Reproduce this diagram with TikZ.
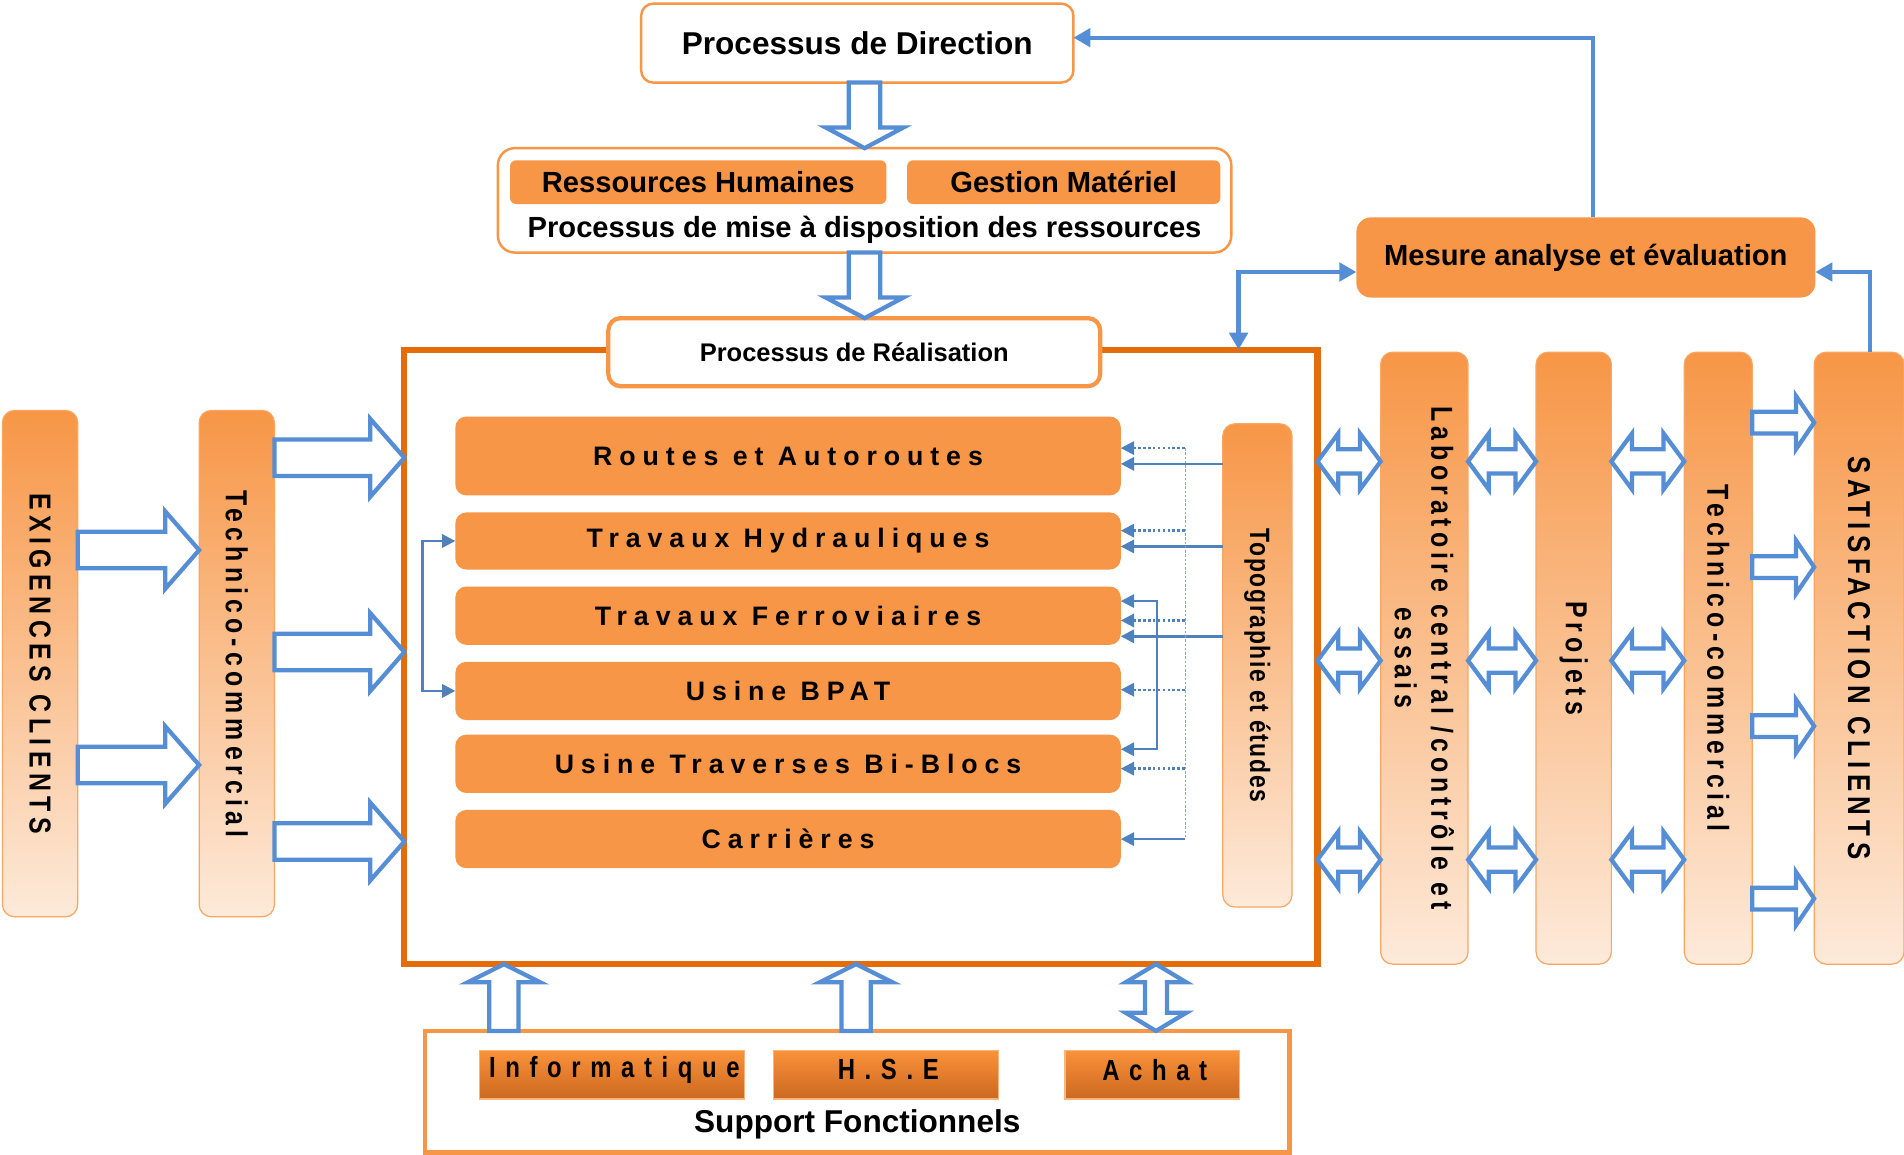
\documentclass[tikz,border=0pt]{standalone}
\usepackage{fontspec}
\setmainfont{Liberation Sans}
\usetikzlibrary{arrows.meta,calc}
\definecolor{org}{RGB}{247,150,70}
\definecolor{orgD}{RGB}{228,108,10}
\definecolor{orgL}{RGB}{253,234,218}
\definecolor{orgM}{RGB}{250,192,144}
\definecolor{blu}{RGB}{85,142,213}
\definecolor{bluD}{RGB}{79,129,189}
\definecolor{botT}{RGB}{250,146,58}
\definecolor{botB}{RGB}{204,104,32}
\newcommand\AP[3]{({\x#1+(#2)*\n2-(#3)*\n3},{\y#1+(#2)*\n3+(#3)*\n2})}
\newcommand\sarrow[5]{\draw[hollow] let \p1=(#1), \p2=(#2), \n1={veclen(\x2-\x1,\y2-\y1)}, \n2={(\x2-\x1)/\n1}, \n3={(\y2-\y1)/\n1} in \AP1{0}{#3} -- \AP2{-#5}{#3} -- \AP2{-#5}{#4} -- \AP2{0}{0} -- \AP2{-#5}{-#4} -- \AP2{-#5}{-#3} -- \AP1{0}{-#3} -- cycle;}
\newcommand\darrow[5]{\draw[hollow] let \p1=(#1), \p2=(#2), \n1={veclen(\x2-\x1,\y2-\y1)}, \n2={(\x2-\x1)/\n1}, \n3={(\y2-\y1)/\n1} in \AP1{0}{0} -- \AP1{#5}{#4} -- \AP1{#5}{#3} -- \AP2{-#5}{#3} -- \AP2{-#5}{#4} -- \AP2{0}{0} -- \AP2{-#5}{-#4} -- \AP2{-#5}{-#3} -- \AP1{#5}{-#3} -- \AP1{#5}{-#4} -- cycle;}
\newcommand\narrowfont[3]{\fontsize{#1}{#2}\selectfont\bfseries\addfontfeature{FakeStretch=0.82,LetterSpace=#3}}
\tikzset{
 every node/.style={inner sep=0pt, outer sep=0pt},
 rowbox/.style={fill=org, rounded corners=9pt, minimum width=548pt, minimum height=48pt, font=\fontsize{22}{26}\selectfont\bfseries\addfontfeature{LetterSpace=26}},
 bar/.style={rounded corners=10pt, top color=org, bottom color=orgL, middle color=orgM, draw=org!85, line width=1pt},
 vlabel/.style={rotate=-90, align=center},
 whitebox/.style={fill=white, draw=org, rounded corners=10pt, line width=2pt},
 obox/.style={fill=org, font=\fontsize{24}{28}\selectfont\bfseries},
 botbox/.style={top color=botT, bottom color=botB, draw=org!70, line width=1pt, minimum height=40pt},
 bottext/.style={font=\narrowfont{24}{28}{33}},
 hollow/.style={draw=blu, fill=white, line width=3.5pt},
 conn/.style={draw=blu, line width=3.5pt, -{Triangle[length=14pt,width=15pt]}},
 tconn/.style={draw=bluD, line width=2pt},
 dotc/.style={draw=bluD, line width=2pt, dash pattern=on 2pt off 2pt},
 dotv/.style={draw=bluD!70, line width=0.8pt, dash pattern=on 2pt off 1.5pt}
}
\begin{document}
\begin{tikzpicture}[x=1pt,y=-1pt, >={Triangle[length=11pt,width=11pt]}]
\fill[white] (0,0) rectangle (1568,951);
\useasboundingbox (0,0) rectangle (1568,951);

% main realisation frame
\node[draw=orgD, line width=5pt, minimum width=752pt, minimum height=506pt] (main) at (709,541) {};

% top part
\node[whitebox, minimum width=356pt, minimum height=65pt, font=\fontsize{26}{30}\selectfont\bfseries] (dir) at (706,35.5) {Processus de Direction};
\node[whitebox, rounded corners=14pt, minimum width=604pt, minimum height=86pt] (res) at (712,165) {};
\node[obox, rounded corners=5pt, minimum width=310pt, minimum height=36pt] (rh) at (575,150) {Ressources Humaines};
\node[obox, rounded corners=5pt, minimum width=258pt, minimum height=36pt] (gm) at (876,150) {Gestion Matériel};
\node[font=\fontsize{24}{28}\selectfont\bfseries] (mise) at (712,189) {Processus de mise à disposition des ressources};
\node[whitebox, line width=3.5pt, minimum width=405pt, minimum height=56pt, font=\fontsize{21}{25}\selectfont\bfseries] (real) at (703.5,290) {Processus de Réalisation};
\node[obox, rounded corners=12pt, minimum width=378pt, minimum height=66pt] (mes) at (1306,212) {Mesure analyse et évaluation};

% rows
\node[rowbox, minimum height=65pt] (routes) at (649,375.5) {Routes et Autoroutes};
\node[rowbox, minimum height=47pt] (hyd) at (649,445.5) {Travaux Hydrauliques};
\node[rowbox] (ferro) at (649,507) {Travaux Ferroviaires};
\node[rowbox] (bpat) at (649,569) {Usine BPAT};
\node[rowbox] (trav) at (649,629) {Usine Traverses Bi-Blocs};
\node[rowbox] (carr) at (649,691) {Carrières};

% vertical bars
\node[bar, minimum width=57pt, minimum height=398pt] (topo) at (1035.5,548) {};
\node[vlabel, font=\narrowfont{23}{27}{6}] (topoT) at (topo.center) {Topographie et études};
\node[bar, minimum width=62pt, minimum height=417pt] (exig) at (33,546.5) {};
\node[vlabel, font=\narrowfont{25}{29}{18}] (exigT) at (exig.center) {EXIGENCES CLIENTS};
\node[bar, minimum width=62pt, minimum height=417pt] (tcl) at (195,546.5) {};
\node[vlabel, font=\narrowfont{25}{29}{17}] (tclT) at (tcl.center) {Technico-commercial};
\node[bar, minimum width=72pt, minimum height=504pt] (lab) at (1173,542) {};
\node[vlabel, font=\narrowfont{25}{30}{16}] (labT) at (lab.center) {Laboratoire central /contrôle et\\essais};
\node[bar, minimum width=62pt, minimum height=504pt] (proj) at (1296,542) {};
\node[vlabel, font=\narrowfont{25}{29}{16}] (projT) at (proj.center) {Projets};
\node[bar, minimum width=56pt, minimum height=504pt] (tcr) at (1415,542) {};
\node[vlabel, font=\narrowfont{25}{29}{17}] (tcrT) at (tcr.center) {Technico-commercial};
\node[bar, minimum width=74pt, minimum height=504pt] (sat) at (1531,542) {};
\node[vlabel, font=\narrowfont{26}{30}{17}] (satT) at (sat.center) {SATISFACTION CLIENTS};

% support
\node[draw=org, line width=3.5pt, fill=white, minimum width=712pt, minimum height=100pt] (sup) at (706,899) {};
\node[botbox, minimum width=218pt] (info) at (504,885) {};
\node[botbox, minimum width=185pt] (hse) at (729.5,885) {};
\node[botbox, minimum width=144pt] (ach) at (949,885) {};
\node[bottext] (infoT) at ($(info.center)+(2,-4)$) {Informatique};
\node[bottext] (hseT) at ($(hse.center)+(2,-4)$) {H.S.E};
\node[bottext] (achT) at ($(ach.center)+(2,-4)$) {Achat};
\node[font=\fontsize{26}{30}\selectfont\bfseries] (supT) at (706,926) {Support Fonctionnels};

% thick connectors
\draw[conn] ([xshift=6pt]mes.north) |- ([yshift=4.5pt]dir.east);
\draw[conn] ([xshift=9pt]sat.north) |- ([yshift=-12pt]mes.east);
\draw[conn, {Triangle[length=14pt,width=15pt]}-{Triangle[length=14pt,width=15pt]}] ([yshift=-12pt]mes.west) -| ([xshift=-65pt]main.north east);

% topographie connectors
\coordinate (r1) at ($(routes.east)+(0,6.5)$);
\coordinate (h1) at ($(hyd.east)+(0,4.5)$);
\coordinate (f1) at ($(ferro.east)+(0,17)$);
\draw[tconn,<-] (r1) -- (r1 -| topo.west);
\draw[tconn,<-] (h1) -- (h1 -| topo.west);
\draw[tconn,<-] (f1) -- (f1 -| topo.west);
\coordinate (r2) at ($(routes.east)+(0,-6.5)$);
\coordinate (h2) at ($(hyd.east)+(0,-8.5)$);
\coordinate (f2) at ($(ferro.east)+(0,4)$);
\coordinate (b2) at ($(bpat.east)+(0,-1)$);
\coordinate (t2) at ($(trav.east)+(0,4)$);
\coordinate (c2) at (carr.east);
\draw[dotv] ($(r2)+(53,0)$) -- ($(c2)+(53,0)$);
\draw[dotc,<-] (r2) -- ++(53,0);
\draw[dotc,<-] (h2) -- ++(53,0);
\draw[dotc,<-] (f2) -- ++(53,0);
\draw[dotc,<-] (b2) -- ++(53,0);
\draw[dotc,<-] (t2) -- ++(53,0);
\draw[tconn,<-] (c2) -- ++(53,0);
\coordinate (fb) at ($(ferro.east)+(0,-12)$);
\coordinate (tb) at ($(trav.east)+(0,-12)$);
\draw[tconn,<->] (fb) -- ++(30,0) |- (tb);
\draw[tconn,<->] (hyd.west) -- ++(-27,0) |- (bpat.west);

% hollow arrows top
\sarrow{dir.south -| res.north}{res.north}{13}{32}{17}
\sarrow{res.south}{real.north -| res.south}{13}{32}{17}

% left hollow arrows
\sarrow{exig.east |- 0,453}{tcl.west |- 0,453}{15}{32}{28}
\sarrow{exig.east |- 0,630}{tcl.west |- 0,630}{15}{32}{28}
\sarrow{tcl.east |- 0,377}{main.west |- 0,377}{15}{32}{28}
\sarrow{tcl.east |- 0,537}{main.west |- 0,537}{15}{32}{28}
\sarrow{tcl.east |- 0,693}{main.west |- 0,693}{15}{32}{28}

% right double arrows
\darrow{main.east |- 0,380}{lab.west |- 0,380}{10}{23}{17}
\darrow{main.east |- 0,544}{lab.west |- 0,544}{10}{23}{17}
\darrow{main.east |- 0,708}{lab.west |- 0,708}{10}{23}{17}
\darrow{lab.east |- 0,380}{proj.west |- 0,380}{10}{23}{17}
\darrow{lab.east |- 0,544}{proj.west |- 0,544}{10}{23}{17}
\darrow{lab.east |- 0,708}{proj.west |- 0,708}{10}{23}{17}
\darrow{proj.east |- 0,380}{tcr.west |- 0,380}{10}{23}{17}
\darrow{proj.east |- 0,544}{tcr.west |- 0,544}{10}{23}{17}
\darrow{proj.east |- 0,708}{tcr.west |- 0,708}{10}{23}{17}

% to satisfaction
\sarrow{tcr.east |- 0,348}{sat.west |- 0,348}{9}{22}{15}
\sarrow{tcr.east |- 0,467}{sat.west |- 0,467}{9}{22}{15}
\sarrow{tcr.east |- 0,598}{sat.west |- 0,598}{9}{22}{15}
\sarrow{tcr.east |- 0,740}{sat.west |- 0,740}{9}{22}{15}

% bottom arrows
\sarrow{sup.north -| 415,0}{main.south -| 415,0}{12}{30}{15}
\sarrow{sup.north -| 705,0}{main.south -| 705,0}{12}{30}{15}
\darrow{sup.north -| 952,0}{main.south -| 952,0}{9}{25}{15}
\end{tikzpicture}
\end{document}
